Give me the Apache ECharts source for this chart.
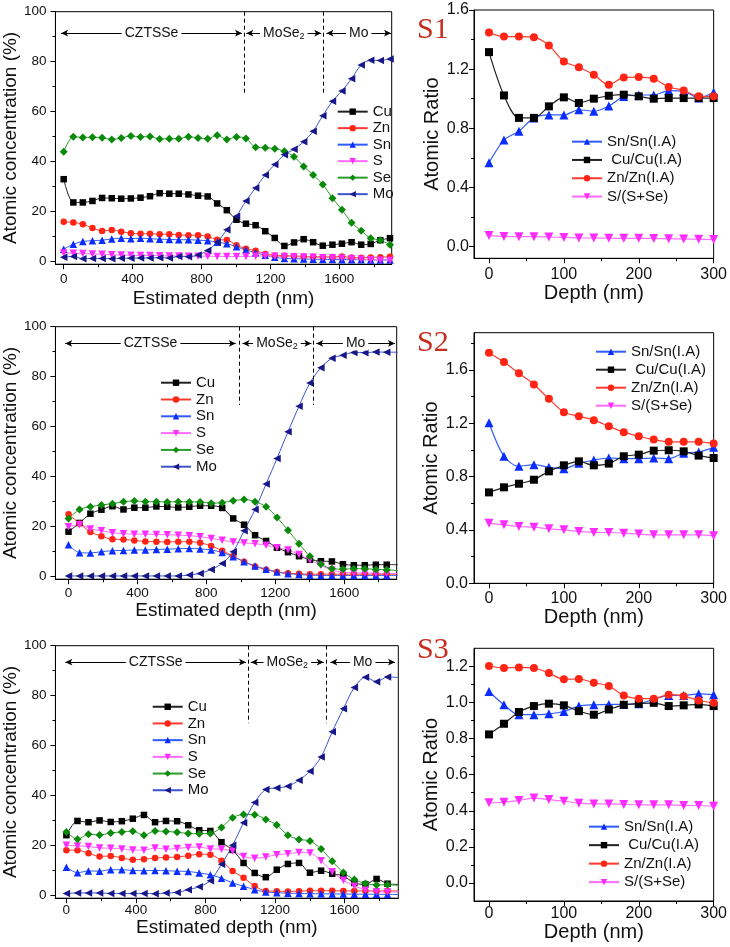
<!DOCTYPE html>
<html><head><meta charset="utf-8">
<script src="https://cdn.jsdelivr.net/npm/echarts@6/dist/echarts.min.js"></script>
<style>html,body{margin:0;padding:0;background:#fff}#c{width:730px;height:947px}</style>
</head><body><div id="c"></div>
<script>
// ---------------- DATA ----------------
const depthS1 = [0,56,111,167,223,279,334,390,446,501,557,613,668,724,780,836,891,947,1003,1058,1114,1170,1225,1281,1337,1393,1448,1504,1560,1615,1671,1727,1782,1838,1894];
const depthS23 = [0,64,127,191,255,319,382,446,510,573,637,701,764,828,892,956,1019,1083,1147,1210,1274,1338,1401,1465,1529,1593,1656,1720,1784,1847,1911];
const depthR = [0,20,40,60,80,100,120,140,160,180,200,220,240,260,280,300];

// S1 atomic concentration (%)
const cu1 = [33.0,23.7,23.7,24.3,25.5,25.4,25.2,25.3,25.6,26.2,27.4,27.2,27.2,26.9,26.4,26.1,23.3,20.6,16.8,15.2,14.6,12.2,9.5,6.3,7.7,9.0,7.8,6.4,6.8,7.2,7.8,6.8,7.1,8.6,9.4];
const zn1 = [16.0,15.7,15.0,13.5,12.3,12.7,12.0,11.4,11.2,11.2,11.0,11.0,10.7,10.6,10.6,10.1,8.8,8.7,6.6,5.2,4.4,3.1,2.5,2.4,2.3,2.1,2.0,1.9,1.9,2.1,1.7,1.6,1.7,1.8,2.0];
const sn1 = [5.0,7.0,8.1,8.4,8.6,9.1,9.4,9.2,9.4,9.2,9.0,8.9,8.8,8.8,8.6,8.4,7.8,7.2,6.0,4.7,3.6,2.6,1.8,1.3,1.2,1.1,1.0,0.9,0.9,0.8,0.8,0.8,0.7,0.7,0.7];
const s1 = [3.5,3.4,3.3,3.1,3.0,2.8,2.7,2.6,2.5,2.5,2.4,2.3,2.3,2.2,2.2,2.2,2.1,2.1,2.1,2.1,2.2,2.3,2.2,2.1,2.0,1.9,1.8,1.6,1.5,1.4,1.2,1.0,0.8,0.6,0.5];
const se1 = [44.0,50.0,49.7,49.8,49.6,48.9,49.5,50.3,49.9,50.1,49.1,49.2,49.2,50.0,49.5,49.2,50.6,48.9,49.9,49.3,45.8,45.6,45.2,44.2,42.0,38.1,34.7,30.9,25.4,20.8,15.6,12.4,9.4,8.6,6.8];
const mo1 = [1.8,2.1,1.2,1.3,1.3,1.2,1.4,1.4,1.5,1.5,1.6,1.5,2.1,2.0,2.7,4.5,7.8,12.8,18.2,24.3,29.5,34.7,38.9,42.8,45.0,48.0,52.2,58.4,64.2,68.3,73.2,78.7,80.6,80.5,81.1];

// S2
const cu2 = [18.0,21.5,25.2,26.8,28.2,26.9,27.6,27.6,28.1,28.0,27.7,28.0,28.4,28.4,27.5,23.3,20.8,16.6,14.3,11.6,9.8,8.2,6.8,6.2,6.1,5.0,4.6,4.6,4.8,4.8,4.8];
const zn2 = [25.0,21.3,17.9,16.2,15.0,14.9,14.5,14.1,14.0,13.9,14.0,14.0,13.6,12.3,10.4,8.2,6.0,4.1,2.8,1.9,1.4,1.2,1.0,1.0,1.0,1.0,1.0,1.0,1.0,1.0,1.0];
const sn2 = [12.8,9.6,9.5,10.0,10.4,10.5,10.7,10.7,10.9,11.0,11.2,11.3,11.1,10.7,9.7,8.0,6.0,4.3,3.0,1.9,1.2,0.9,0.6,0.5,0.5,0.5,0.5,0.5,0.5,0.5,0.5];
const s2 = [20.0,20.8,19.1,18.4,17.6,17.2,17.0,17.0,16.9,16.8,16.6,16.4,16.0,15.3,14.6,13.9,13.5,13.2,12.6,11.6,10.7,8.9,6.7,4.6,2.6,1.8,1.5,1.5,1.3,1.3,1.3];
const se2 = [23.3,26.9,28.0,28.7,29.2,30.0,30.3,30.0,30.0,29.9,30.0,29.9,29.9,29.4,29.6,30.4,30.9,30.0,28.0,23.7,18.6,13.2,8.2,5.0,3.2,3.0,3.2,3.2,2.9,2.8,2.4];
const mo2 = [0.3,0.3,0.3,0.3,0.3,0.3,0.3,0.3,0.3,0.3,0.3,0.7,1.3,2.9,5.3,10.0,18.4,26.9,37.1,47.3,58.0,68.2,77.5,83.6,87.4,88.6,89.7,89.6,89.9,89.8,89.8];

// S3
const cu3 = [24.2,29.9,29.4,30.1,29.5,29.8,30.8,32.3,29.4,29.9,29.8,28.2,26.2,25.9,21.4,18.3,13.1,9.1,7.4,10.4,12.7,13.1,9.2,10.0,8.8,7.9,5.1,4.5,6.7,4.8,4.5];
const zn3 = [18.2,18.2,17.0,15.7,15.9,15.1,14.4,14.6,15.1,15.3,15.5,16.0,16.6,16.4,14.0,9.9,7.2,3.9,1.9,1.8,1.7,1.8,2.0,2.0,2.0,1.9,1.9,1.9,1.9,1.9,1.9];
const sn3 = [11.4,9.2,9.9,9.8,10.4,10.4,10.1,10.0,10.1,10.0,9.8,9.7,9.1,8.4,7.0,5.1,3.8,2.4,1.5,1.2,1.0,0.9,0.8,0.8,0.7,0.7,0.6,0.6,0.6,0.5,0.5];
const s3 = [20.2,19.9,19.7,19.1,19.0,18.7,18.3,18.2,19.1,18.6,18.9,19.3,19.5,18.7,18.6,17.9,15.7,15.0,15.5,16.4,16.8,17.3,17.1,14.0,9.6,6.2,3.9,2.3,1.6,1.5,1.5];
const se3 = [25.5,22.6,24.6,24.3,25.1,25.5,25.8,24.2,25.9,25.7,25.4,24.9,24.8,24.9,27.3,31.2,32.5,32.4,30.5,28.3,24.2,22.5,21.9,18.7,13.8,9.3,6.5,4.9,4.3,4.4,4.1];
const mo3 = [0.9,1.1,1.1,1.1,0.9,0.9,0.9,0.9,0.8,1.1,1.3,2.4,3.6,6.0,12.6,20.2,29.2,37.3,42.5,43.1,43.8,46.2,49.8,55.5,65.6,74.8,83.3,87.4,85.6,87.5,87.3];

// Atomic ratios
const snR1 = [0.566,0.72,0.78,0.87,0.89,0.89,0.925,0.915,0.95,1.015,1.025,1.025,1.055,1.05,1.005,1.043];
const cuR1 = [1.315,1.022,0.87,0.87,0.948,1.009,0.971,1.0,1.02,1.027,1.016,1.0,1.004,1.004,1.004,1.004];
const znR1 = [1.447,1.42,1.42,1.416,1.36,1.252,1.213,1.162,1.094,1.144,1.146,1.135,1.079,1.056,1.016,1.016];
const sR1 = [0.075,0.068,0.066,0.066,0.064,0.061,0.058,0.057,0.056,0.055,0.055,0.054,0.053,0.051,0.049,0.047];

const snR2 = [1.204,0.953,0.878,0.89,0.87,0.86,0.9,0.925,0.94,0.935,0.935,0.94,0.935,0.975,0.985,1.02];
const cuR2 = [0.682,0.72,0.747,0.777,0.84,0.885,0.915,0.885,0.898,0.953,0.965,0.995,0.998,0.99,0.958,0.94];
const znR2 = [1.73,1.66,1.575,1.492,1.384,1.284,1.254,1.224,1.179,1.134,1.103,1.078,1.061,1.061,1.061,1.048];
const sR2 = [0.451,0.439,0.426,0.421,0.409,0.401,0.389,0.381,0.381,0.376,0.369,0.364,0.364,0.364,0.364,0.356];

const snR3 = [1.061,0.987,0.932,0.932,0.937,0.95,0.98,0.987,0.989,0.989,0.993,1.017,1.039,1.039,1.048,1.043];
const cuR3 = [0.823,0.882,0.947,0.98,0.993,0.984,0.952,0.932,0.961,0.987,0.993,0.998,0.98,0.984,0.989,0.98];
const znR3 = [1.202,1.191,1.194,1.191,1.163,1.128,1.13,1.109,1.091,1.039,1.021,1.021,1.043,1.035,1.011,0.998];
const sR3 = [0.444,0.447,0.457,0.47,0.462,0.453,0.442,0.438,0.438,0.435,0.433,0.433,0.433,0.429,0.429,0.425];

// tick labels
const xTicksL = [0,400,800,1200,1600];
const xMinorL = [200,600,1000,1400,1800];
const yTicksL = [0,20,40,60,80,100];
const yMinorL = [10,30,50,70,90];
const xTicksR = [0,100,200,300];
const xMinorR = [50,150,250];
const yTicksR12 = [0,0.4,0.8,1.2,1.6];
const yMinorR1 = [0.2,0.6,1.0,1.4];
const yMinorR2 = [0.2,0.6,1.0,1.4,1.8];
const yTicksR3 = [0,0.2,0.4,0.6,0.8,1.0,1.2];
const yMinorR3 = [0.1,0.3,0.5,0.7,0.9,1.1];

const elemNames = ['Cu','Zn','Sn','S','Se','Mo'];
const ratioNames = ['Sn/Sn(I.A)',' Cu/Cu(I.A)','Zn/Zn(I.A)','S/(S+Se)'];
const layerNames = ['CZTSSe','MoSe{s|2}','Mo'];
const panelTags = ['S1','S2','S3'];

// ---------------- BUILD ----------------
const FONT = '"Liberation Sans", Arial, sans-serif';
const TXT = '#111';
const grids = [], xAxes = [], yAxes = [], series = [], legends = [], graphics = [];

const ST = {
  'Cu': {symbol:'rect', color:'#000000', line:'#222222'},
  'Zn': {symbol:'circle', color:'#ff2414', line:'#ff3b30'},
  'Sn': {symbol:'triangle', color:'#0a2cff', line:'#2f5cff'},
  'S':  {symbol:'triangle', rot:180, color:'#ff2cff', line:'#ff6cff'},
  'Se': {symbol:'diamond', color:'#088a08', line:'#2a9d2a'},
  'Mo': {symbol:'triangle', rot:90, color:'#17178a', line:'#3a55c8'},
  'Sn/Sn(I.A)': {symbol:'triangle', color:'#0a2cff', line:'#2f5cff'},
  ' Cu/Cu(I.A)': {symbol:'rect', color:'#000000', line:'#222222'},
  'Zn/Zn(I.A)': {symbol:'circle', color:'#ff2414', line:'#ff3b30'},
  'S/(S+Se)': {symbol:'triangle', rot:180, color:'#ff2cff', line:'#ff6cff'}
};

function addPanel(p) {
  const g = grids.length;
  grids.push({left:p.left, top:p.top, width:p.width, height:p.height, show:true, borderColor:'#000', borderWidth:1, backgroundColor:'transparent'});
  const xi = xAxes.length, yi = yAxes.length;
  xAxes.push({type:'value', gridIndex:g, position:'bottom', min:p.xMin, max:p.xMax,
    name:p.xName, nameLocation:'middle', nameGap:p.xNameGap,
    nameTextStyle:{fontFamily:FONT, fontSize:p.nameSize, color:TXT},
    axisLine:{show:true, onZero:false, lineStyle:{color:'#000', width:1}},
    axisTick:{show:true, inside:false, length:5, customValues:p.xMajor, lineStyle:{color:'#000'}},
    axisLabel:{customValues:p.xMajor, margin:p.xMargin, fontFamily:FONT, fontSize:p.labelSize, color:TXT, formatter:v=>String(v)},
    splitLine:{show:false}});
  xAxes.push({type:'value', gridIndex:g, position:'bottom', min:p.xMin, max:p.xMax,
    axisLine:{show:false, onZero:false}, axisTick:{show:true, length:3, customValues:p.xMinor, lineStyle:{color:'#000'}},
    axisLabel:{show:false}, splitLine:{show:false}});
  yAxes.push({type:'value', gridIndex:g, position:'left', min:p.yMin, max:p.yMax,
    name:p.yName, nameLocation:'middle', nameGap:p.yNameGap,
    nameTextStyle:{fontFamily:FONT, fontSize:p.nameSize, color:TXT},
    axisLine:{show:true, onZero:false, lineStyle:{color:'#000', width:1}},
    axisTick:{show:true, inside:false, length:5, customValues:p.yMajor, lineStyle:{color:'#000'}},
    axisLabel:{customValues:p.yMajor, margin:p.yMargin, fontFamily:FONT, fontSize:p.labelSize, color:TXT, formatter:p.yFmt},
    splitLine:{show:false}});
  yAxes.push({type:'value', gridIndex:g, position:'left', min:p.yMin, max:p.yMax,
    axisLine:{show:false, onZero:false}, axisTick:{show:true, length:3, customValues:p.yMinor, lineStyle:{color:'#000'}},
    axisLabel:{show:false}, splitLine:{show:false}});

  p.names.forEach((nm, k) => {
    const st = ST[nm];
    const s = {type:'line', name:nm, xAxisIndex:xi, yAxisIndex:yi,
      data:p.depth.map((d,i)=>[d, p.vals[k][i]]),
      symbol:st.symbol, symbolRotate:st.rot||0,
      symbolSize: st.symbol==='diamond' ? p.sym+1.5 : (st.symbol==='triangle' ? p.sym+1 : p.sym),
      smooth:0.3, lineStyle:{color:st.line, width:p.lw}, itemStyle:{color:st.color, borderWidth:0},
      emphasis:{disabled:true}, animation:false, silent:true};
    if (k===0 && p.ann) s.markLine = p.ann;
    series.push(s);
  });

  legends.push({orient:'vertical', left:p.lgLeft, top:p.lgTop, itemWidth:30, itemHeight:8, itemGap:0, padding:0,
    selectedMode:false, data:p.names,
    textStyle:{fontFamily:FONT, fontSize:15, color:TXT, lineHeight:p.lgStep}});
}

function annotation(d1, d2, dashEnd, yArr, segs) {
  const lab = (txt) => ({show:true, position:'middle', formatter:txt, verticalAlign:'middle', distance:0,
    backgroundColor:'#fff', padding:[0,3], color:TXT, fontFamily:FONT, fontSize:14,
    rich:{s:{fontSize:9, fontFamily:FONT, color:TXT, padding:[7,0,0,0]}}});
  const data = [
    [{coord:[d1,100], lineStyle:{type:[4,3]}}, {coord:[d1,dashEnd]}],
    [{coord:[d2,100], lineStyle:{type:[4,3]}}, {coord:[d2,dashEnd]}]
  ];
  segs.forEach((sg, i) => {
    data.push([{coord:[sg[0],yArr], symbol:'arrow', symbolSize:[5,7], label:lab(layerNames[i])},
               {coord:[sg[1],yArr], symbol:'arrow', symbolSize:[5,7]}]);
  });
  return {silent:true, animation:false, symbol:'none', label:{show:false},
    lineStyle:{color:'#000', width:1, type:'solid'}, emphasis:{disabled:true}, data};
}

const fmtInt = v => String(Math.round(v));
const fmt1 = v => v.toFixed(1);

// Left panels
addPanel({left:49, top:11.7, width:342.7, height:252.5, xMin:-48, xMax:1904, yMin:-1, yMax:100,
  xMajor:xTicksL, xMinor:xMinorL, yMajor:yTicksL, yMinor:yMinorL, yFmt:fmtInt,
  xName:'Estimated depth (nm)', yName:'Atomic concentration (%)', nameSize:19, labelSize:13.5,
  xMargin:8, yMargin:9, xNameGap:25, yNameGap:27,
  names:elemNames, depth:depthS1, vals:[cu1,zn1,sn1,s1,se1,mo1], sym:6.5, lw:1,
  lgLeft:336.7, lgTop:103.4, lgStep:16.5,
  ann:annotation(1047,1509,66.7,91.4,[[-15,1035],[1060,1495],[1525,1900]])});
addPanel({left:50, top:326.7, width:346.7, height:252.5, xMin:-76, xMax:1905, yMin:-1, yMax:100,
  xMajor:xTicksL, xMinor:xMinorL, yMajor:yTicksL, yMinor:yMinorL, yFmt:fmtInt,
  xName:'Estimated depth (nm)', yName:'Atomic concentration (%)', nameSize:19, labelSize:13.5,
  xMargin:7.5, yMargin:9, xNameGap:22, yNameGap:25,
  names:elemNames, depth:depthS23, vals:[cu2,zn2,sn2,s2,se2,mo2], sym:6.5, lw:1,
  lgLeft:160, lgTop:374.3, lgStep:16.8,
  ann:annotation(991,1423,68.7,93.3,[[-19,971],[1010,1410],[1438,1895]])});
addPanel({left:53.3, top:645.7, width:345, height:252.5, xMin:-63, xMax:1909, yMin:-1, yMax:100,
  xMajor:xTicksL, xMinor:xMinorL, yMajor:yTicksL, yMinor:yMinorL, yFmt:fmtInt,
  xName:'Estimated depth (nm)', yName:'Atomic concentration (%)', nameSize:19, labelSize:13.5,
  xMargin:5, yMargin:9, xNameGap:16, yNameGap:27,
  names:elemNames, depth:depthS23, vals:[cu3,zn3,sn3,s3,se3,mo3], sym:6.5, lw:1,
  lgLeft:151.7, lgTop:698.4, lgStep:16.7,
  ann:annotation(1046,1494,69,93.4,[[-6,1033],[1061,1480],[1518,1890]])});

// Right panels
addPanel({left:474, top:10, width:241, height:248.3, xMin:-20, xMax:300, yMin:-0.08, yMax:1.6,
  xMajor:xTicksR, xMinor:xMinorR, yMajor:yTicksR12, yMinor:yMinorR1, yFmt:fmt1,
  xName:'Depth (nm)', yName:'Atomic Ratio', nameSize:20, labelSize:16,
  xMargin:8.5, yMargin:5, xNameGap:22, yNameGap:27.5,
  names:ratioNames, depth:depthR, vals:[snR1,cuR1,znR1,sR1], sym:8, lw:1.2,
  lgLeft:571, lgTop:132.5, lgStep:18.3});
addPanel({left:474, top:332.7, width:241, height:250.6, xMin:-20, xMax:300, yMin:0, yMax:1.88,
  xMajor:xTicksR, xMinor:xMinorR, yMajor:yTicksR12, yMinor:yMinorR2, yFmt:fmt1,
  xName:'Depth (nm)', yName:'Atomic Ratio', nameSize:20, labelSize:16,
  xMargin:7, yMargin:6, xNameGap:22, yNameGap:29.5,
  names:ratioNames, depth:depthR, vals:[snR2,cuR2,znR2,sR2], sym:8, lw:1.2,
  lgLeft:595, lgTop:342.7, lgStep:18});
addPanel({left:474, top:648.3, width:241, height:252.7, xMin:-20, xMax:300, yMin:-0.1, yMax:1.3,
  xMajor:xTicksR, xMinor:xMinorR, yMajor:yTicksR3, yMinor:yMinorR3, yFmt:fmt1,
  xName:'Depth (nm)', yName:'Atomic Ratio', nameSize:20, labelSize:16,
  xMargin:5, yMargin:6, xNameGap:20, yNameGap:29.5,
  names:ratioNames, depth:depthR, vals:[snR3,cuR3,znR3,sR3], sym:8, lw:1.2,
  lgLeft:588, lgTop:817.4, lgStep:18.5});

// Panel tags
[[417,30],[417,343],[417,650]].forEach((pos, i) => {
  graphics.push({type:'text', left:pos[0], top:pos[1]-15, silent:true,
    style:{text:panelTags[i], font:'30px "Liberation Serif", "Times New Roman", serif', fill:'#c62d1f'}});
});

const chart = echarts.init(document.getElementById('c'), null, {renderer:'canvas'});
chart.setOption({
  animation:false,
  backgroundColor:'#fff',
  textStyle:{fontFamily:FONT},
  grid:grids, xAxis:xAxes, yAxis:yAxes, series, legend:legends, graphic:graphics
});
</script></body></html>
